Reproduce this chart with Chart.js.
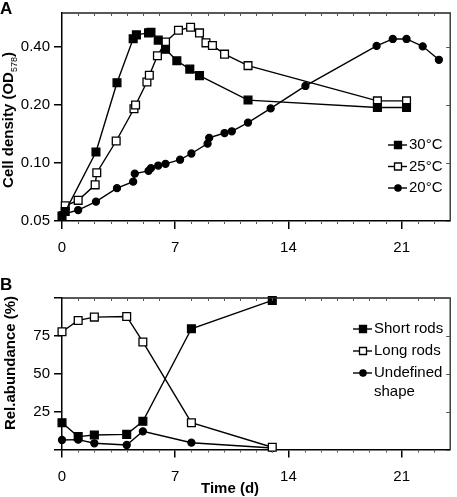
<!DOCTYPE html>
<html>
<head>
<meta charset="utf-8">
<script src="https://cdn.jsdelivr.net/npm/chart.js@4.4.1/dist/chart.umd.min.js"></script>
<style>
  body { margin: 0; background: #fff; }
  #wrap { position: relative; width: 457px; height: 497px; font-family: 'Liberation Sans', Arial, sans-serif; color: #000; }
  canvas { position: absolute; left: 0; }
  #chartA { top: 0; }
  #chartB { top: 260px; }
  .lbl { position: absolute; font-weight: bold; white-space: nowrap; line-height: 1; }
  .panel { font-size: 17px; }
  .ytitle { font-size: 15px; transform: translate(-50%, -50%) rotate(-90deg); }
  .ytitle sub { font-size: 9px; font-weight: normal; }
</style>
</head>
<body>
<div id="wrap">
  <canvas id="chartA" width="457" height="260"></canvas>
  <canvas id="chartB" width="457" height="237"></canvas>
  <div class="lbl panel" style="left:0px; top:0px;">A</div>
  <div class="lbl panel" style="left:0px; top:276px;">B</div>
  <div class="lbl ytitle" style="left:9px; top:120px;">Cell density (OD<sub>578</sub>)</div>
  <div class="lbl ytitle" style="left:9px; top:363px;">Rel.abundance (%)</div>
  <div class="lbl" style="left:201px; top:480px; font-size:15px;">Time (d)</div>
</div>
<script>
// --- Données ---
const xTicks = [0, 7, 14, 21];

// A : densité cellulaire (DO578), échelle log
const seriesA = ['30°C', '25°C', '20°C'];
const days30 = [0, 0.2, 2.1, 3.4, 4.4, 4.6, 5.35, 5.5, 5.95, 6.4, 7.1, 7.9, 8.5, 11.5, 19.5, 21.3];
const od30 = [0.053, 0.056, 0.114, 0.261, 0.441, 0.462, 0.473, 0.476, 0.434, 0.389, 0.339, 0.307, 0.284, 0.212, 0.194, 0.194];
const days25 = [0.2, 1.0, 2.05, 2.15, 3.35, 4.45, 4.55, 5.25, 5.4, 5.9, 6.4, 7.2, 7.95, 8.5, 8.9, 9.3, 10.05, 11.5, 19.5, 21.3];
const od25 = [0.060, 0.064, 0.077, 0.089, 0.13, 0.191, 0.20, 0.263, 0.285, 0.36, 0.424, 0.488, 0.506, 0.473, 0.42, 0.407, 0.367, 0.32, 0.21, 0.21];
const days20 = [0, 1.0, 2.1, 3.4, 4.4, 4.5, 5.35, 5.5, 5.95, 6.4, 7.3, 8.0, 9.0, 9.1, 10.05, 10.5, 11.5, 12.9, 15.05, 19.45, 20.45, 21.3, 22.3, 23.3];
const od20 = [0.054, 0.057, 0.063, 0.074, 0.080, 0.088, 0.091, 0.094, 0.097, 0.099, 0.104, 0.112, 0.126, 0.135, 0.143, 0.146, 0.162, 0.192, 0.251, 0.405, 0.44, 0.44, 0.403, 0.343];
const yTicksA = [0.05, 0.10, 0.20, 0.40];

// B : abondance relative (%)
const seriesB = ['Short rods', 'Long rods', 'Undefined shape'];
const daysB = [0, 1, 2, 4, 5, 8, 13];
const shortRods = [17.7, 8.5, 9.6, 10, 18.6, 79.7, 98.4];
const longRods = [77.7, 85.2, 87.4, 87.8, 71, 17.7, 1.5];
const undefinedShape = [6.3, 6.5, 4.1, 3, 12, 4.5, 1];
const yTicksB = [0, 25, 50, 75, 100];
const yLabelsB = ['', '25', '50', '75', ''];

// --- Styles ---
const FONT = "'Liberation Sans', Arial, sans-serif";
const MARKERS = [
    { pointStyle: 'rect', radius: 5.5, fill: '#000' },
    { pointStyle: 'rect', radius: 5.5, fill: '#fff' },
    { pointStyle: 'circle', radius: 3.5, fill: '#000' }
];

function toPoints(xs, ys) {
    return xs.map((x, i) => ({ x: x, y: ys[i] }));
}

function makeDataset(label, points, i) {
    const m = MARKERS[i];
    return {
        label: label,
        data: points,
        borderColor: '#000',
        borderWidth: 1.4,
        pointStyle: m.pointStyle,
        pointRadius: m.radius,
        pointBackgroundColor: m.fill,
        pointBorderColor: '#000',
        pointBorderWidth: 1.3,
        tension: 0,
        clip: false
    };
}

// Cadre (haut/droite) + petites graduations
const framePlugin = {
    id: 'frame',
    afterDraw(chart) {
        const { ctx, chartArea: a, scales } = chart;
        ctx.save();
        ctx.strokeStyle = '#222';
        ctx.lineWidth = 1.3;
        ctx.beginPath();
        ctx.moveTo(a.left, a.top);
        ctx.lineTo(a.right, a.top);
        ctx.lineTo(a.right, a.bottom);
        ctx.stroke();
        ctx.lineWidth = 1;
        ctx.strokeStyle = '#555';
        ctx.beginPath();
        for (let d = 1; d < 24; d++) {
            if (xTicks.includes(d)) continue;
            const px = Math.round(scales.x.getPixelForValue(d)) + 0.5;
            ctx.moveTo(px, a.bottom + 1);
            ctx.lineTo(px, a.bottom + 3);
            ctx.moveTo(px, a.top);
            ctx.lineTo(px, a.top + 3);
        }
        scales.y.ticks.forEach(t => {
            const py = Math.round(scales.y.getPixelForValue(t.value)) + 0.5;
            ctx.moveTo(a.right, py);
            ctx.lineTo(a.right - 4, py);
        });
        ctx.stroke();
        ctx.restore();
    }
};

// Légende dessinée à la main (trait + marqueur + texte)
const legendPlugin = {
    id: 'refLegend',
    afterDraw(chart, args, opts) {
        const { ctx } = chart;
        ctx.save();
        ctx.font = '15px ' + FONT;
        ctx.textBaseline = 'middle';
        ctx.fillStyle = '#000';
        let y = opts.y;
        chart.data.datasets.forEach((ds, i) => {
            ctx.strokeStyle = '#000';
            ctx.lineWidth = 1.4;
            ctx.beginPath();
            ctx.moveTo(opts.x - 10, y);
            ctx.lineTo(opts.x + 9, y);
            ctx.stroke();
            ctx.fillStyle = ds.pointBackgroundColor;
            ctx.lineWidth = 1.3;
            Chart.helpers.drawPoint(ctx, {
                pointStyle: ds.pointStyle, radius: ds.pointRadius * 0.9, borderWidth: 1.3, rotation: 0
            }, opts.x, y);
            ctx.fillStyle = '#000';
            // coupe le libellé si trop long
            const words = ds.label.split(' ');
            let line = '';
            const lines = [];
            words.forEach(w => {
                const test = line ? line + ' ' + w : w;
                if (line && ctx.measureText(test).width > opts.maxWidth) {
                    lines.push(line);
                    line = w;
                } else {
                    line = test;
                }
            });
            lines.push(line);
            lines.forEach((l, k) => ctx.fillText(l, opts.x + 11, y + k * opts.wrapStep));
            y += opts.step;
        });
        ctx.restore();
    }
};

function xScale(height) {
    return {
        type: 'linear',
        min: 0,
        max: 24,
        afterBuildTicks: s => { s.ticks = xTicks.map(v => ({ value: v })); },
        afterFit: s => { s.height = height; },
        border: { display: true, color: '#000', width: 1.5 },
        grid: { display: true, drawOnChartArea: false, drawTicks: true, tickLength: 8, color: '#000', lineWidth: 1.5 },
        ticks: { color: '#000', font: { family: FONT, size: 15 }, padding: 10, maxRotation: 0 }
    };
}

const chartA = new Chart(document.getElementById('chartA'), {
    type: 'line',
    data: {
        datasets: [
            makeDataset(seriesA[0], toPoints(days30, od30), 0),
            makeDataset(seriesA[1], toPoints(days25, od25), 1),
            makeDataset(seriesA[2], toPoints(days20, od20), 2)
        ]
    },
    options: {
        responsive: false,
        animation: false,
        devicePixelRatio: 1,
        layout: { padding: { top: 9, right: 2, left: 0, bottom: 0 } },
        plugins: {
            legend: { display: false },
            tooltip: { enabled: false },
            refLegend: { x: 398, y: 145, step: 21.5, wrapStep: 19, maxWidth: 80 }
        },
        scales: {
            x: xScale(39),
            y: {
                type: 'logarithmic',
                min: 0.05,
                max: 0.6,
                afterBuildTicks: s => { s.ticks = yTicksA.map(v => ({ value: v })); },
                afterFit: s => { s.width = 62; },
                border: { display: true, color: '#000', width: 1.5 },
                grid: { display: true, drawOnChartArea: false, drawTicks: true, tickLength: 8, color: '#000', lineWidth: 1.5 },
                ticks: {
                    color: '#000', font: { family: FONT, size: 15 }, padding: 4,
                    callback: v => Number(v).toFixed(2)
                }
            }
        }
    },
    plugins: [framePlugin, legendPlugin]
});

const chartB = new Chart(document.getElementById('chartB'), {
    type: 'line',
    data: {
        datasets: [
            makeDataset(seriesB[0], toPoints(daysB, shortRods), 0),
            makeDataset(seriesB[1], toPoints(daysB, longRods), 1),
            makeDataset(seriesB[2], toPoints(daysB, undefinedShape), 2)
        ]
    },
    options: {
        responsive: false,
        animation: false,
        devicePixelRatio: 1,
        layout: { padding: { top: 38, right: 2, left: 0, bottom: 0 } },
        plugins: {
            legend: { display: false },
            tooltip: { enabled: false },
            refLegend: { x: 363, y: 69, step: 22, wrapStep: 19, maxWidth: 80 }
        },
        scales: {
            x: xScale(47.5),
            y: {
                type: 'linear',
                min: 0,
                max: 100,
                afterBuildTicks: s => { s.ticks = yTicksB.map(v => ({ value: v })); },
                afterFit: s => { s.width = 62; },
                border: { display: true, color: '#000', width: 1.5 },
                grid: { display: true, drawOnChartArea: false, drawTicks: true, tickLength: 8, color: '#000', lineWidth: 1.5 },
                ticks: {
                    color: '#000', font: { family: FONT, size: 15 }, padding: 4,
                    callback: (v, i) => yLabelsB[i]
                }
            }
        }
    },
    plugins: [framePlugin, legendPlugin]
});
</script>
</body>
</html>
